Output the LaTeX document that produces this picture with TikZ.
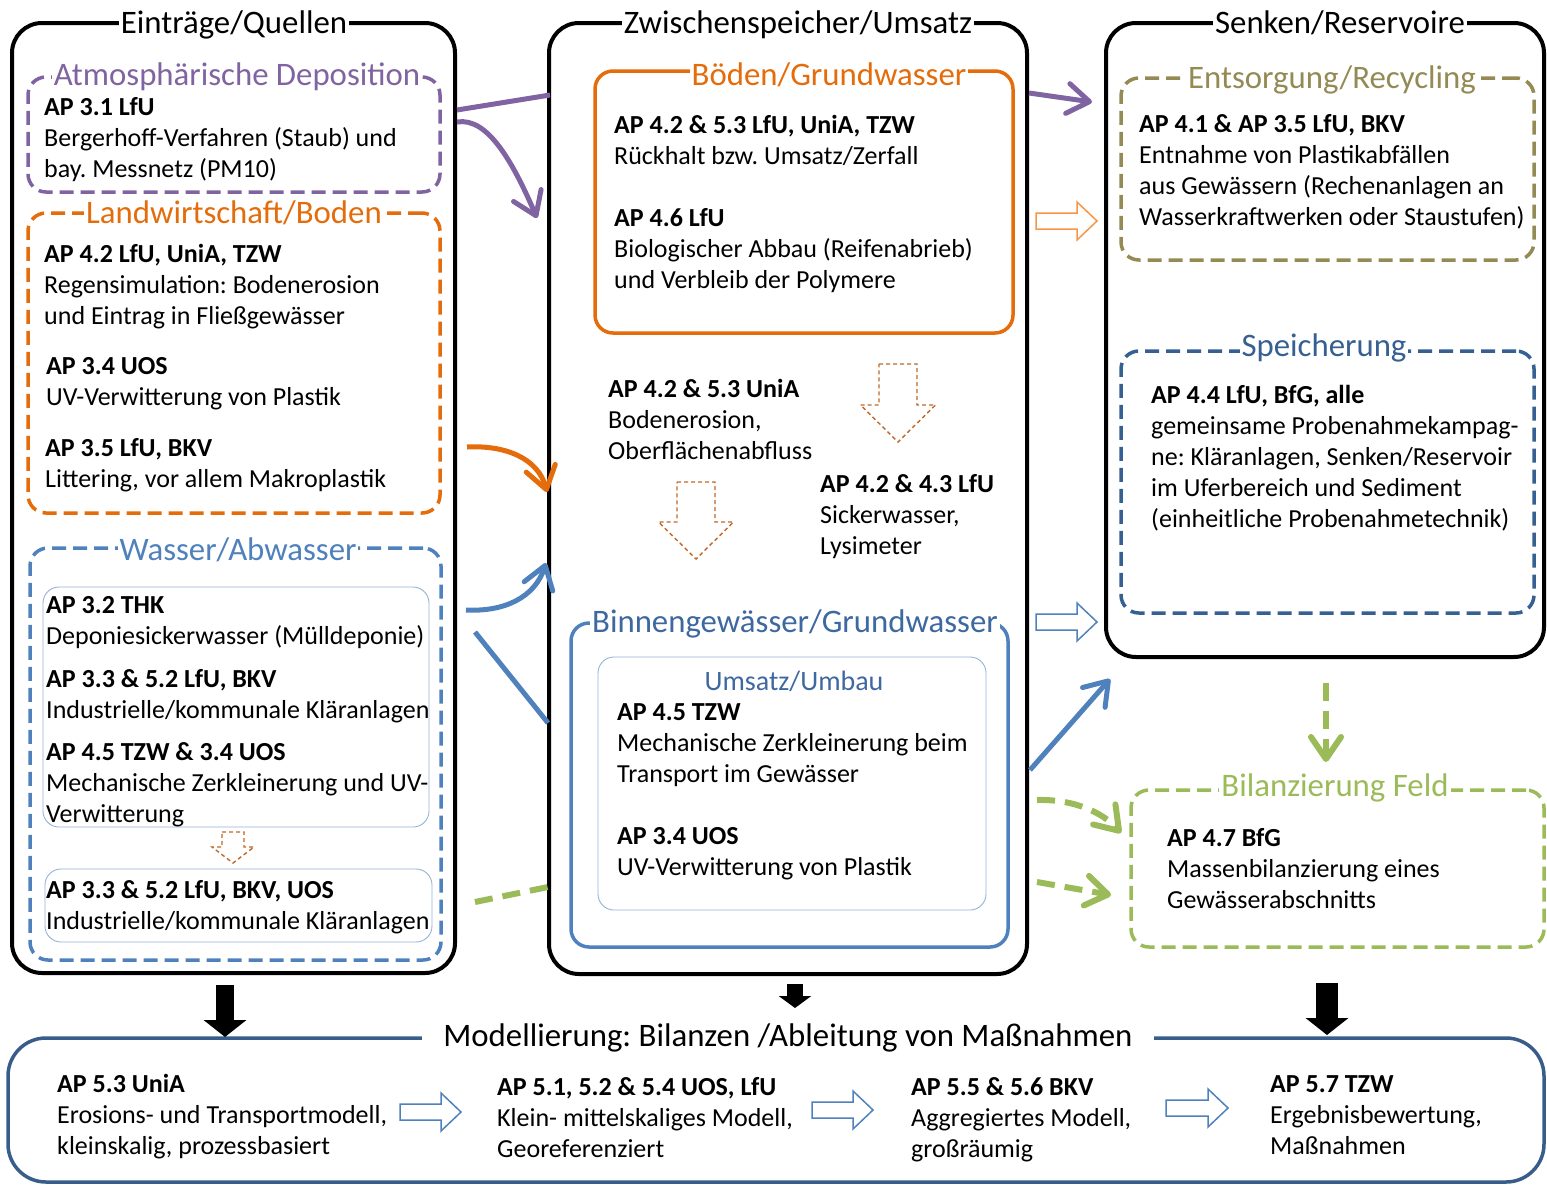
\documentclass[tikz,border=0pt]{standalone}
\usepackage{fontspec}
\setmainfont{Carlito}
\usetikzlibrary{arrows.meta}
\frenchspacing
\definecolor{cpurple}{RGB}{128,100,162}
\definecolor{corange}{RGB}{228,108,10}
\definecolor{clorange}{RGB}{247,150,70}
\definecolor{cblue}{RGB}{79,129,189}
\definecolor{cdblue}{RGB}{54,96,146}
\definecolor{cbtitle}{RGB}{62,104,160}
\definecolor{colive}{RGB}{148,138,84}
\definecolor{cgreen}{RGB}{155,187,89}
\definecolor{cthin}{RGB}{149,179,215}
\definecolor{cbrown}{RGB}{192,104,40}
\definecolor{cbottom}{RGB}{56,93,138}
\newcommand\rtarrow[4]{\draw[#1] (#2,#4-8) -- (#3-20,#4-8) -- (#3-20,#4-19) -- (#3,#4) -- (#3-20,#4+19) -- (#3-20,#4+8) -- (#2,#4+8) -- cycle;}
\newcommand\dnarrow[7]{\draw[#1] (#2-#6,#3) -- (#2+#6,#3) -- (#2+#6,#4) -- (#2+#7,#4) -- (#2,#5) -- (#2-#7,#4) -- (#2-#6,#4) -- cycle;}
\begin{document}
\frenchspacing
\begin{tikzpicture}[x=1pt,y=-1pt,
  bigbox/.style={draw, line width=4pt, rounded corners=30pt, inner sep=0pt, rectangle},
  dbox/.style={draw=#1, line width=3.5pt, dash pattern=on 14pt off 7pt, rounded corners=18pt, inner sep=0pt, rectangle},
  sbox/.style={draw=#1, line width=3.5pt, rounded corners=18pt, inner sep=0pt, rectangle},
  thinbox/.style={draw=cthin, line width=0.9pt, rounded corners=16pt, inner sep=0pt, rectangle},
  ttl/.style={fill=white, inner xsep=2pt, inner ysep=0pt, anchor=base, font=\fontsize{32.8}{38}\selectfont},
  txt/.style={anchor=base west, align=left, inner sep=0pt, font=\fontsize{26}{31}\selectfont},
  conn/.style={draw=#1, line width=5pt},
  gconn/.style={draw=cgreen, line width=6pt, dash pattern=on 18pt off 10pt},
  barb/.style={-{Straight Barb[length=22pt,width=30pt,round]}},
  holl/.style={draw=#1, line width=1.5pt},
  brn/.style={draw=cbrown, line width=1.4pt, dash pattern=on 4pt off 3pt},
  blk/.style={line width=#1, -{Triangle[length=17pt,width=42pt]}}
]
\useasboundingbox (0,0) rectangle (1547,1184);

% ---------- big boxes ----------
\node[bigbox, minimum width=443, minimum height=950] (src) at (233.5,498) {};
\node[bigbox, minimum width=478, minimum height=951] (mid) at (788,498.5) {};
\node[bigbox, minimum width=438, minimum height=634] (snk) at (1325,340) {};
\node[ttl] (tsrc) at (234,33) {Einträge/Quellen};
\node[ttl] (tmid) at (798,33) {Zwischenspeicher/Umsatz};
\node[ttl] (tsnk) at (1340,33) {Senken/Reservoire};

% ---------- left column ----------
\node[dbox=cpurple, minimum width=412, minimum height=115] (atm) at (234,134.5) {};
\node[ttl, text=cpurple] (tatm) at (237,85) {Atmosphärische Deposition};
\node[txt] (xatm) at (44,177) {\textbf{AP 3.1 LfU}\\Bergerhoff-Verfahren (Staub) und\\bay. Messnetz (PM10)};

\node[dbox=corange, minimum width=412, minimum height=300] (lwb) at (234,363) {};
\node[ttl, text=corange] (tlwb) at (234,223) {Landwirtschaft/Boden};
\node[txt] (xlwb1) at (44,324) {\textbf{AP 4.2 LfU, UniA, TZW}\\Regensimulation: Bodenerosion\\und Eintrag in Fließgewässer};
\node[txt] (xlwb2) at (46,405) {\textbf{AP 3.4 UOS}\\UV-Verwitterung von Plastik};
\node[txt] (xlwb3) at (45,487) {\textbf{AP 3.5 LfU, BKV}\\Littering, vor allem Makroplastik};

\node[dbox=cblue, minimum width=411, minimum height=412] (was) at (235.5,754) {};
\node[ttl, text=cblue] (twas) at (238,560) {Wasser/Abwasser};
\node[thinbox, minimum width=386, minimum height=240] (wi1) at (236,707) {};
\node[thinbox, minimum width=387, minimum height=73] (wi2) at (238.5,905.5) {};
\node[txt] (xw1) at (46,644) {\textbf{AP 3.2 THK}\\Deponiesickerwasser (Mülldeponie)};
\node[txt] (xw2) at (46,718) {\textbf{AP 3.3 \& 5.2 LfU, BKV}\\Industrielle/kommunale Kläranlagen};
\node[txt] (xw3) at (46,822) {\textbf{AP 4.5 TZW \& 3.4 UOS}\\Mechanische Zerkleinerung und UV-\\Verwitterung};
\node[txt] (xw4) at (46,929) {\textbf{AP 3.3 \& 5.2 LfU, BKV, UOS}\\Industrielle/kommunale Kläranlagen};
\dnarrow{brn}{233}{832}{847}{863}{11}{21}

% ---------- middle column ----------
\node[sbox=corange, minimum width=418, minimum height=262] (bod) at (804,202) {};
\node[ttl, text=corange] (tbod) at (829,85) {Böden/Grundwasser};
\node[txt] (xb1) at (614,164) {\textbf{AP 4.2 \& 5.3 LfU, UniA, TZW}\\Rückhalt bzw. Umsatz/Zerfall};
\node[txt] (xb2) at (614,288) {\textbf{AP 4.6 LfU}\\Biologischer Abbau (Reifenabrieb)\\und Verbleib der Polymere};
\node[txt] (xm1) at (608,459) {\textbf{AP 4.2 \& 5.3 UniA}\\Bodenerosion,\\Oberflächenabfluss};
\node[txt] (xm2) at (820,554) {\textbf{AP 4.2 \& 4.3 LfU}\\Sickerwasser,\\Lysimeter};
\dnarrow{brn}{898}{364}{405}{442}{19}{37.5}
\dnarrow{brn}{696}{482}{522}{559}{19}{37.5}

\node[sbox=cblue, minimum width=437, minimum height=324] (bin) at (789.5,785) {};
\node[ttl, text=cbtitle] (tbin) at (795,632) {Binnengewässer/Grundwasser};
\node[thinbox, minimum width=388, minimum height=253] (ums) at (792,783.5) {};
\node[anchor=base, inner sep=0pt, text=cbtitle, font=\fontsize{28}{34}\selectfont] (tums) at (794,690) {Umsatz/Umbau};
\node[txt] (xu1) at (617,782) {\textbf{AP 4.5 TZW}\\Mechanische Zerkleinerung beim\\Transport im Gewässer};
\node[txt] (xu2) at (617,875) {\textbf{AP 3.4 UOS}\\UV-Verwitterung von Plastik};

% ---------- right column ----------
\node[dbox=colive, minimum width=413, minimum height=182] (ent) at (1327.5,169) {};
\node[ttl, text=colive] (tent) at (1332,88) {Entsorgung/Recycling};
\node[txt] (xent) at (1139,225) {\textbf{AP 4.1 \& AP 3.5 LfU, BKV}\\Entnahme von Plastikabfällen\\aus Gewässern (Rechenanlagen an\\Wasserkraftwerken oder Staustufen)};

\node[dbox=cdblue, minimum width=413, minimum height=262] (spe) at (1327.5,482) {};
\node[ttl, text=cdblue] (tspe) at (1324,356) {Speicherung};
\node[txt] (xspe) at (1151,527) {\textbf{AP 4.4 LfU, BfG, alle}\\gemeinsame Probenahmekampag-\\ne: Kläranlagen, Senken/Reservoir\\im Uferbereich und Sediment\\(einheitliche Probenahmetechnik)};

\node[dbox=cgreen, minimum width=413, minimum height=157] (bil) at (1337.5,868.5) {};
\node[ttl, text=cgreen] (tbil) at (1335,796) {Bilanzierung Feld};
\node[txt] (xbil) at (1167,908) {\textbf{AP 4.7 BfG}\\Massenbilanzierung eines\\Gewässerabschnitts};

% ---------- bottom box ----------
\node[draw=cbottom, line width=3.5pt, rounded corners=38pt, inner sep=0pt, rectangle, minimum width=1536, minimum height=144] (mod) at (776,1110) {};
\node[ttl, inner xsep=21pt, fill=white] (tmod) at (788,1046) {Modellierung: Bilanzen /Ableitung von Maßnahmen};
\node[txt] (xmod1) at (57,1154) {\textbf{AP 5.3 UniA}\\Erosions- und Transportmodell,\\kleinskalig, prozessbasiert};
\node[txt] (xmod2) at (497,1157) {\textbf{AP 5.1, 5.2 \& 5.4 UOS, LfU}\\Klein- mittelskaliges Modell,\\Georeferenziert};
\node[txt] (xmod3) at (911,1157) {\textbf{AP 5.5 \& 5.6 BKV}\\Aggregiertes Modell,\\großräumig};
\node[txt] (xmod4) at (1270,1154) {\textbf{AP 5.7 TZW}\\Ergebnisbewertung,\\Maßnahmen};
\rtarrow{holl=cblue}{400}{461}{1112}
\rtarrow{holl=cblue}{812}{873}{1110}
\rtarrow{holl=cblue}{1166}{1228}{1108}

% ---------- hollow arrows between columns ----------
\rtarrow{holl=clorange}{1036}{1097}{221}
\rtarrow{holl=cblue}{1036}{1097}{622}

% ---------- connector coordinates ----------
\coordinate (pa1) at (457,110);  \coordinate (pa2) at (550,95);
\coordinate (pa3) at (1029,93);  \coordinate (pa4) at (1092,102);
\coordinate (pc1) at (457,122);  \coordinate (pc2) at (537,218);
\coordinate (po1) at (467,447);  \coordinate (po2) at (547,492);
\coordinate (pb1) at (466,610);  \coordinate (pb2) at (546,563);
\coordinate (pb3) at (475,632);  \coordinate (pb4) at (548,723);
\coordinate (pb5) at (1030,770); \coordinate (pb6) at (1110,679);
\coordinate (pg1) at (475,902);  \coordinate (pg2) at (548,887);
\coordinate (pg3) at (1037,800); \coordinate (pg4) at (1121,833);
\coordinate (pg5) at (1037,882); \coordinate (pg6) at (1111,895);
\coordinate (pg7) at (1326,683); \coordinate (pg8) at (1326,762);
\coordinate (k1) at (225,985);   \coordinate (k2) at (225,1037);
\coordinate (k3) at (795,984);   \coordinate (k4) at (795,1008);
\coordinate (k5) at (1327,983);  \coordinate (k6) at (1327,1035);

% purple
\draw[conn=cpurple] (pa1) -- (pa2);
\draw[conn=cpurple, barb] (pa3) -- (pa4);
\draw[conn=cpurple, barb] (pc1) .. controls (487,117) and (512,160) .. (pc2);
% orange
\draw[conn=corange, barb] (po1) .. controls (505,445) and (538,458) .. (po2);
% blue
\draw[conn=cblue, barb] (pb1) .. controls (505,612) and (535,597) .. (pb2);
\draw[conn=cblue] (pb3) -- (pb4);
\draw[conn=cblue, barb] (pb5) -- (pb6);
% green
\draw[gconn] (pg1) -- (pg2);
\draw[gconn, barb] (pg3) .. controls (1075,799) and (1103,813) .. (pg4);
\draw[gconn, barb] (pg5) -- (pg6);
\draw[gconn, barb] (pg7) -- (pg8);
% black block arrows to modelling
\draw[blk=18pt] (k1) -- (k2);
\draw[blk=16pt, -{Triangle[length=12pt,width=32pt]}] (k3) -- (k4);
\draw[blk=22pt] (k5) -- (k6);
\end{tikzpicture}
\end{document}
